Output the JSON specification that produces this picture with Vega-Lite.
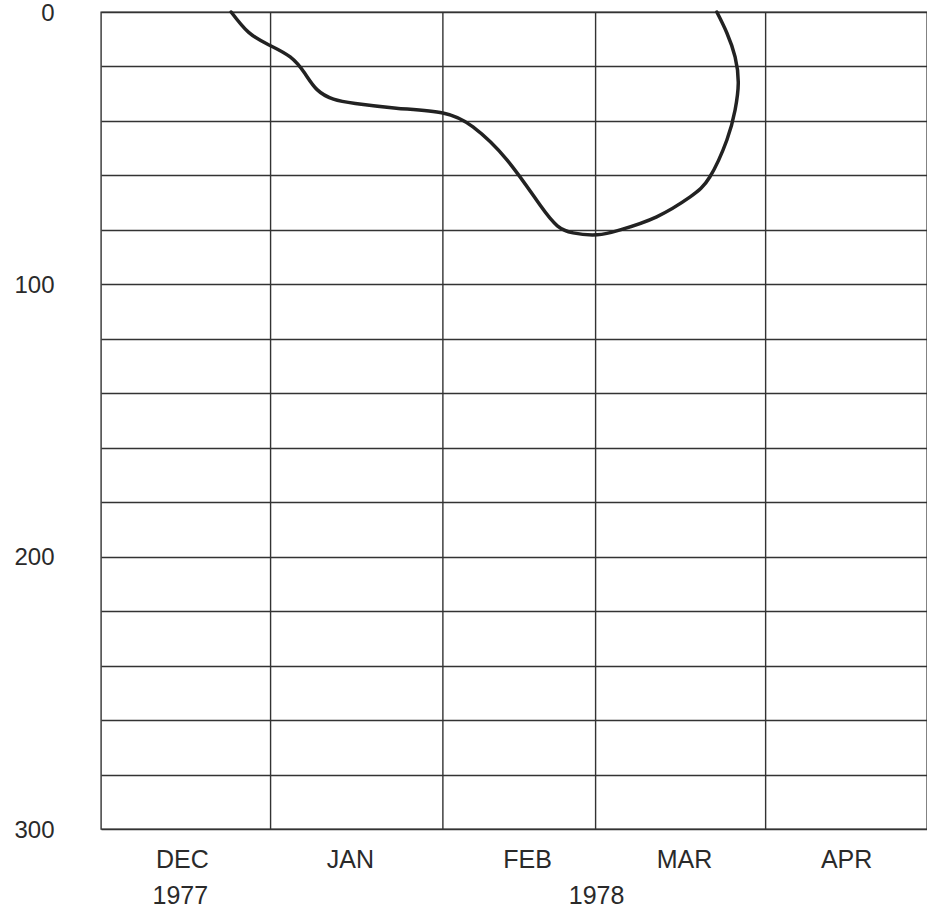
{
  "$schema": "https://vega.github.io/schema/vega-lite/v6.json",
  "width": 826,
  "height": 817,
  "autosize": "none",
  "padding": {"left": 101, "top": 12, "right": 0, "bottom": 79},
  "background": "white",
  "config": {
    "view": {"stroke": "#333333", "strokeWidth": 1.4},
    "font": "Liberation Sans"
  },
  "datasets": {
    "curve": [
      {"order": 1, "date": "1977-12-24T19:00", "depth": 0},
      {"order": 2, "date": "1977-12-28T00:00", "depth": 7.5},
      {"order": 3, "date": "1977-12-31T17:00", "depth": 12.1},
      {"order": 4, "date": "1978-01-04T14:00", "depth": 16.5},
      {"order": 5, "date": "1978-01-07T06:00", "depth": 22.5},
      {"order": 6, "date": "1978-01-09T12:00", "depth": 28.5},
      {"order": 7, "date": "1978-01-12T12:00", "depth": 32.0},
      {"order": 8, "date": "1978-01-16T12:00", "depth": 33.6},
      {"order": 9, "date": "1978-01-24T00:00", "depth": 35.3},
      {"order": 10, "date": "1978-02-01T12:00", "depth": 37.1},
      {"order": 11, "date": "1978-02-07T00:00", "depth": 42.2},
      {"order": 12, "date": "1978-02-13T05:00", "depth": 54.3},
      {"order": 13, "date": "1978-02-19T07:00", "depth": 71.0},
      {"order": 14, "date": "1978-02-22T10:00", "depth": 78.5},
      {"order": 15, "date": "1978-02-25T07:00", "depth": 81.1},
      {"order": 16, "date": "1978-03-01T17:00", "depth": 81.8},
      {"order": 17, "date": "1978-03-05T22:00", "depth": 80.0},
      {"order": 18, "date": "1978-03-12T14:00", "depth": 75.2},
      {"order": 19, "date": "1978-03-18T17:00", "depth": 67.9},
      {"order": 20, "date": "1978-03-22T07:00", "depth": 60.6},
      {"order": 21, "date": "1978-03-25T10:00", "depth": 47.0},
      {"order": 22, "date": "1978-03-26T22:00", "depth": 36.0},
      {"order": 23, "date": "1978-03-27T12:00", "depth": 26.1},
      {"order": 24, "date": "1978-03-26T22:00", "depth": 16.5},
      {"order": 25, "date": "1978-03-25T10:00", "depth": 7.7},
      {"order": 26, "date": "1978-03-23T14:00", "depth": 0}
    ],
    "months": [
      {"boundary": "1978-01-01T00:00"},
      {"boundary": "1978-02-01T12:00"},
      {"boundary": "1978-03-01T10:00"},
      {"boundary": "1978-04-01T12:00"}
    ]
  },
  "layer": [
    {
      "data": {"name": "months"},
      "mark": {"type": "rule", "color": "#333333", "strokeWidth": 1.4},
      "encoding": {
        "x": {
          "field": "boundary",
          "type": "temporal",
          "scale": {
            "domain": [
              {"year": 1977, "month": 12, "date": 1},
              {"year": 1978, "month": 5, "date": 1}
            ],
            "nice": false
          },
          "axis": {
            "orient": "bottom",
            "title": null,
            "grid": false,
            "domain": false,
            "ticks": false,
            "values": [
              {"year": 1977, "month": 12, "date": 15, "hours": 10},
              {"year": 1978, "month": 3, "date": 1, "hours": 12}
            ],
            "labelExpr": "timeFormat(datum.value, '%Y')",
            "labelFont": "Liberation Sans",
            "labelFontSize": 25,
            "labelColor": "#2a2a2a",
            "labelPadding": 54,
            "labelFlush": false,
            "labelOverlap": false
          }
        }
      }
    },
    {
      "data": {"name": "curve"},
      "mark": {
        "type": "line",
        "interpolate": "natural",
        "color": "#222222",
        "strokeWidth": 3.5,
        "strokeCap": "round"
      },
      "encoding": {
        "x": {
          "field": "date",
          "type": "temporal",
          "axis": {
            "orient": "bottom",
            "title": null,
            "grid": false,
            "domain": false,
            "ticks": false,
            "values": [
              {"year": 1977, "month": 12, "date": 15, "hours": 19},
              {"year": 1978, "month": 1, "date": 15, "hours": 12},
              {"year": 1978, "month": 2, "date": 16, "hours": 21},
              {"year": 1978, "month": 3, "date": 17, "hours": 14},
              {"year": 1978, "month": 4, "date": 16, "hours": 5}
            ],
            "labelExpr": "upper(timeFormat(datum.value, '%b'))",
            "labelFont": "Liberation Sans",
            "labelFontSize": 25,
            "labelColor": "#2a2a2a",
            "labelPadding": 18,
            "labelFlush": false,
            "labelOverlap": false
          }
        },
        "y": {
          "field": "depth",
          "type": "quantitative",
          "scale": {"domain": [0, 300], "reverse": true, "nice": false, "zero": true},
          "axis": {
            "title": null,
            "domain": false,
            "ticks": false,
            "grid": true,
            "gridColor": "#333333",
            "gridWidth": 1.4,
            "gridOpacity": 1,
            "values": [0, 20, 40, 60, 80, 100, 120, 140, 160, 180, 200, 220, 240, 260, 280, 300],
            "labelExpr": "datum.value % 100 === 0 ? datum.label : ''",
            "labelFont": "Liberation Sans",
            "labelFontSize": 24,
            "labelColor": "#2a2a2a",
            "labelPadding": 47,
            "labelOffset": 1,
            "labelOverlap": false,
            "labelFlush": false
          }
        },
        "order": {"field": "order", "type": "quantitative"}
      }
    }
  ],
  "resolve": {"axis": {"x": "independent"}}
}
